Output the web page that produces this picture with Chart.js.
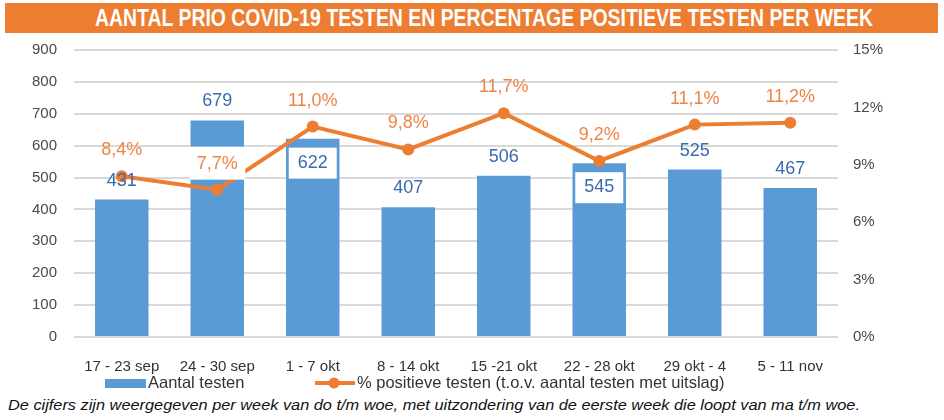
<!DOCTYPE html>
<html>
<head>
<meta charset="utf-8">
<script src="https://cdn.jsdelivr.net/npm/chart.js@4.4.0/dist/chart.umd.min.js"></script>
<style>
html, body { margin: 0; padding: 0; background: #fff; width: 944px; height: 420px; overflow: hidden; font-family: "Liberation Sans", Arial, sans-serif; }
#band { position: absolute; left: 5px; top: 3px; width: 933px; height: 30px; background: #ED7D31; }
#title { position: absolute; left: 95px; top: 3px; height: 30px; line-height: 31px; color: #fff; font-weight: bold; font-size: 23px; white-space: nowrap; transform-origin: left center; }
#wrap { position: absolute; left: 0; top: 35px; width: 944px; height: 360px; }
#note { position: absolute; left: 8px; top: 397px; font-style: italic; font-size: 14px; color: #111; white-space: nowrap; transform-origin: left center; }
</style>
</head>
<body>
<div id="band"></div>
<div id="title">AANTAL PRIO COVID-19 TESTEN EN PERCENTAGE POSITIEVE TESTEN PER WEEK</div>
<div id="wrap"><canvas id="prioChart" width="944" height="360"></canvas></div>
<div id="note">De cijfers zijn weergegeven per week van do t/m woe, met uitzondering van de eerste week die loopt van ma t/m woe.</div>
<script>
// weeks + values
const weeks = ['17 - 23 sep', '24 - 30 sep', '1 - 7 okt', '8 - 14 okt', '15 -21 okt', '22 - 28 okt', '29 okt - 4', '5 - 11 nov'];
const aantalTesten = [431, 679, 622, 407, 506, 545, 525, 467];
const pctPositief = [8.4, 7.7, 11.0, 9.8, 11.7, 9.2, 11.1, 11.2];

const legendBar = 'Aantal testen';
const legendLine = '% positieve testen (t.o.v. aantal testen met uitslag)';

// labels that sit inside the bar on a white box
const barLabelInside = [2, 5];
const lineLabelBoxed = [1];

const BLUE = '#5B9BD5';
const ORANGE = '#ED7D31';

function fitWidth(id, w) {
  const el = document.getElementById(id);
  const r = el.getBoundingClientRect().width;
  el.style.transform = 'scaleX(' + (w / r) + ')';
}
fitWidth('title', 778);
fitWidth('note', 852);

const labelPlugin = {
  id: 'valueLabels',
  afterDatasetsDraw(chart) {
    const ctx = chart.ctx;
    ctx.save();
    ctx.font = '18px "Liberation Sans", Arial, sans-serif';
    ctx.textAlign = 'center';
    ctx.textBaseline = 'middle';

    const bars = chart.getDatasetMeta(1).data;
    bars.forEach((b, i) => {
      let y = b.y - 19;
      if (barLabelInside.includes(i)) {
        y = b.y + 24;
        ctx.fillStyle = '#fff';
        ctx.fillRect(b.x - 24, y - 15, 48, 31);
      }
      ctx.fillStyle = '#3A6BAE';
      ctx.fillText(String(aantalTesten[i]), b.x, y);
    });

    const pts = chart.getDatasetMeta(0).data;
    pts.forEach((p, i) => {
      const y = p.y - 26;
      if (lineLabelBoxed.includes(i)) {
        ctx.fillStyle = '#fff';
        ctx.fillRect(p.x - 28, y - 17, 56, 33);
      }
      ctx.fillStyle = '#EE8545';
      ctx.fillText(pctPositief[i].toFixed(1).replace('.', ',') + '%', p.x, y);
    });
    ctx.restore();
  }
};

const legendPlugin = {
  id: 'bottomLegend',
  afterDraw(chart) {
    const ctx = chart.ctx;
    const y = 348;
    ctx.save();
    ctx.font = '16.5px "Liberation Sans", Arial, sans-serif';
    ctx.textBaseline = 'middle';
    ctx.textAlign = 'left';
    ctx.fillStyle = BLUE;
    ctx.fillRect(105, y - 4, 41, 9);
    ctx.fillStyle = '#333';
    ctx.fillText(legendBar, 148, y);

    ctx.strokeStyle = ORANGE;
    ctx.lineWidth = 4;
    ctx.beginPath();
    ctx.moveTo(315, y);
    ctx.lineTo(355, y);
    ctx.stroke();
    ctx.fillStyle = ORANGE;
    ctx.beginPath();
    ctx.arc(334, y, 5.5, 0, Math.PI * 2);
    ctx.fill();
    ctx.fillStyle = '#333';
    ctx.fillText(legendLine, 357, y);
    ctx.restore();
  }
};

const data = {
  labels: weeks,
  datasets: [{
    type: 'line',
    label: legendLine,
    data: pctPositief,
    yAxisID: 'y1',
    borderColor: ORANGE,
    backgroundColor: ORANGE,
    borderWidth: 4,
    pointRadius: 6,
    pointBackgroundColor: ORANGE,
    pointBorderWidth: 0,
    tension: 0
  }, {
    type: 'bar',
    label: legendBar,
    data: aantalTesten,
    yAxisID: 'y',
    backgroundColor: BLUE,
    barPercentage: 0.56,
    categoryPercentage: 1
  }]
};

const tickFont = { family: '"Liberation Sans", Arial, sans-serif', size: 15 };

function fixVertical(width) {
  return function (s) {
    s.width = width;
    s.paddingTop = 0;
    s.paddingBottom = 0;
  };
}

const config = {
  data: data,
  options: {
    responsive: false,
    animation: false,
    layout: { padding: { top: 15, left: 0, right: 0, bottom: 0 } },
    plugins: {
      legend: { display: false },
      tooltip: { enabled: false }
    },
    scales: {
      x: {
        grid: { display: false },
        border: { display: false },
        ticks: { color: '#333', font: { family: tickFont.family, size: 15 }, padding: 13, maxRotation: 0, autoSkip: false },
        afterFit(s) { s.height = 58; }
      },
      y: {
        position: 'left',
        min: 0,
        max: 900,
        ticks: { stepSize: 100, color: '#4a4a4a', font: tickFont, padding: 17 },
        grid: { color: '#D9D9D9', lineWidth: 2, drawTicks: false },
        border: { display: false },
        afterFit: fixVertical(74)
      },
      y1: {
        position: 'right',
        min: 0,
        max: 15,
        ticks: { stepSize: 3, color: '#4a4a4a', font: tickFont, padding: 15, callback: v => v + '%' },
        grid: { display: false, drawTicks: false },
        border: { display: false },
        afterFit: fixVertical(106)
      }
    }
  },
  plugins: [labelPlugin, legendPlugin]
};

const prioChart = new Chart(document.getElementById('prioChart'), config);
</script>
</body>
</html>
